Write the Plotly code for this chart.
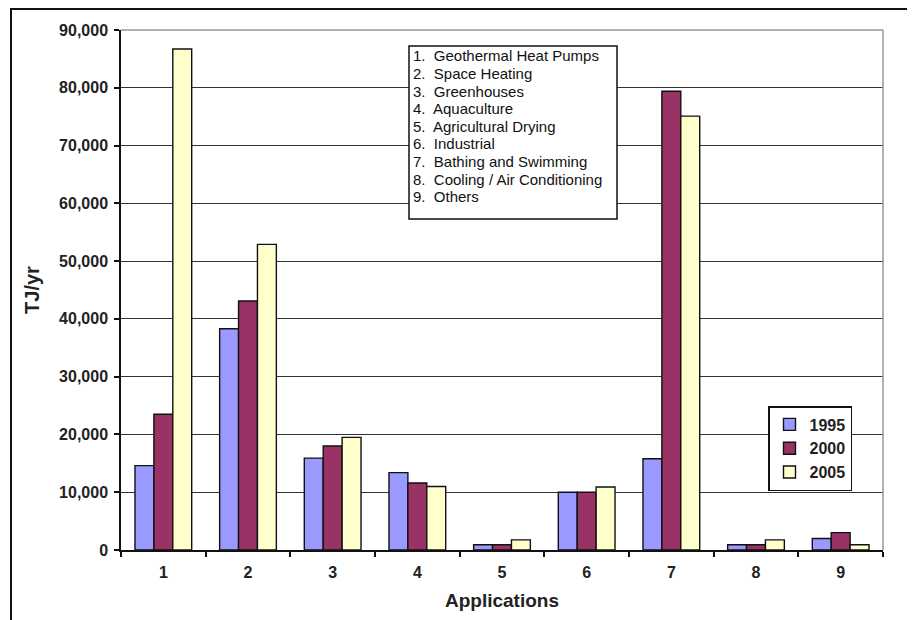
import plotly.graph_objects as go

applications = ["1", "2", "3", "4", "5", "6", "7", "8", "9"]
app_names = [
    "Geothermal Heat Pumps",
    "Space Heating",
    "Greenhouses",
    "Aquaculture",
    "Agricultural Drying",
    "Industrial",
    "Bathing and Swimming",
    "Cooling / Air Conditioning",
    "Others",
]
years = ["1995", "2000", "2005"]
values_1995 = [14600, 38300, 15900, 13400, 900, 10000, 15800, 900, 2000]
values_2000 = [23500, 43100, 18000, 11600, 900, 10000, 79400, 900, 3000]
values_2005 = [86700, 52900, 19500, 11000, 1750, 10900, 75100, 1750, 900]
series = [values_1995, values_2000, values_2005]
colors = ["#9999FF", "#993366", "#FFFFCC"]
y_ticks = list(range(0, 90001, 10000))

FONT = "Liberation Sans, Arial, sans-serif"

fig = go.Figure()
for name, vals, col in zip(years, series, colors):
    fig.add_trace(go.Bar(
        x=applications, y=vals, name=name, legendgroup=name,
        marker=dict(color=col, line=dict(color="#111111", width=1.4)),
    ))

OFF = 8  # page body margin
W, H = 915 - OFF, 620 - OFF
L, T = 121 - OFF, 30 - OFF
R = W - (883 - OFF)
B = H - (550 - OFF)
pw, ph = W - L - R, H - T - B

def px(x):
    return (x - OFF - L) / pw

def py(y):
    return (H - B - (y - OFF)) / ph

fig.update_layout(
    width=W, height=H,
    margin=dict(l=L, r=R, t=T, b=B),
    paper_bgcolor="white", plot_bgcolor="white",
    barmode="group", bargap=0.33, bargroupgap=0,
    font=dict(family=FONT, color="#1a1a1a"),
    showlegend=True,
    legend=dict(
        x=px(852), y=py(406), xanchor="right", yanchor="top",
        bgcolor="white", bordercolor="#111111", borderwidth=1.5,
        font=dict(size=16, family=FONT, weight="bold", color="#222222"),
        itemwidth=30, tracegroupgap=3, traceorder="normal",
    ),
    xaxis=dict(
        showline=True, linecolor="#111111", linewidth=1.5,
        ticks="outside", ticklen=5, tickcolor="#111111", tickwidth=1.5,
        tickson="boundaries", showgrid=False,
        tickfont=dict(size=16, family=FONT, weight="bold", color="#222222"),
        ticklabelstandoff=7,
        title=dict(text="Applications", font=dict(size=19, family=FONT, weight="bold", color="#222222"), standoff=14),
    ),
    yaxis=dict(
        range=[0, 90000], tickvals=y_ticks, tickformat=",",
        showline=True, linecolor="#111111", linewidth=1.5,
        ticks="outside", ticklen=5, tickcolor="#111111", tickwidth=1.5,
        showgrid=True, gridcolor="#333333", gridwidth=1.3,
        zeroline=False,
        tickfont=dict(size=16, family=FONT, weight="bold", color="#222222"),
        ticklabelstandoff=3,
        title=dict(text="TJ/yr", font=dict(size=20, family=FONT, weight="bold", color="#222222"), standoff=14),
    ),
)

# plot area top and right border (grey)
fig.add_shape(type="line", xref="paper", yref="paper", x0=0, x1=1, y0=1, y1=1,
              line=dict(color="#999999", width=1.5))
fig.add_shape(type="line", xref="paper", yref="paper", x0=1, x1=1, y0=0, y1=1,
              line=dict(color="#999999", width=1.5))
# outer frame
fig.add_shape(type="rect", xref="paper", yref="paper",
              x0=px(11), x1=px(940), y0=py(650), y1=py(9),
              line=dict(color="#111111", width=2), layer="above")

# key box for application numbers
fig.add_shape(type="rect", xref="paper", yref="paper",
              x0=px(409), x1=px(617), y0=py(219), y1=py(46),
              fillcolor="white", line=dict(color="#111111", width=1.5), layer="above")
for i, n in enumerate(app_names):
    fig.add_annotation(
        xref="paper", yref="paper", x=px(411), y=py(55.7 + i * 17.65),
        xanchor="left", yanchor="middle",
        text=f"{i + 1}.  {n}", showarrow=False, align="left",
        font=dict(size=15, family=FONT, color="#111111"),
    )

fig.write_html("out.html")
